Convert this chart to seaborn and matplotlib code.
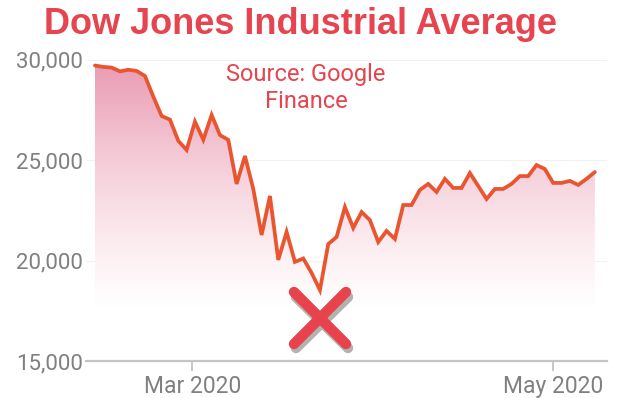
import numpy as np
import pandas as pd
import matplotlib
matplotlib.use("Agg")
import matplotlib.pyplot as plt
import matplotlib.patheffects as pe
from matplotlib.colors import LinearSegmentedColormap
from matplotlib.markers import MarkerStyle
import seaborn as sns

# ---- data ----
holidays = ["2020-02-17", "2020-04-10"]
trade_dates = [d for d in pd.bdate_range("2020-02-12", "2020-05-08") if d.strftime("%Y-%m-%d") not in holidays]
dow_close = [
    29700, 29630, 29600, 29410, 29490, 29430, 29180, 28150, 27190, 27010,
    25950, 25500, 26910, 26010, 27240, 26240, 26000, 23810, 25200, 23560,
    21270, 23210, 20030, 21420, 19930, 20100, 19380, 18530, 20820, 21170,
    22660, 21620, 22410, 22010, 20920, 21470, 21070, 22760, 22760, 23510,
    23810, 23410, 24060, 23610, 23610, 24350, 23710, 23060, 23560, 23560,
    23810, 24200, 24200, 24750, 24550, 23860, 23860, 23960, 23760, 24060,
    24400,
]
y_ticks = [15000, 20000, 25000, 30000]
x_tick_dates = ["2020-03-01", "2020-05-01"]
x_tick_labels = ["Mar 2020", "May 2020"]
title = "Dow Jones Industrial Average"
source_text = "Source: Google\nFinance"

df = pd.DataFrame({"idx": np.arange(len(dow_close)), "close": dow_close, "date": trade_dates})

# ---- style ----
sns.set_theme(style="white")
plt.rcParams["font.family"] = ["Roboto", "DejaVu Sans"]

RED = "#E6444E"
LINE = "#E9552F"
GRAY = "#808080"

fig = plt.figure(figsize=(6.18, 3.98), dpi=100)
ax = fig.add_axes([86 / 618, 1 - 361 / 398, (607 - 86) / 618, (361 - 59.5) / 398])

xmin, xmax = -1.08, 61.46
ymin, ymax = 15000, 30000
ax.set_xlim(xmin, xmax)
ax.set_ylim(ymin, ymax)

# gradient fill under the line
cmap = LinearSegmentedColormap.from_list(
    "pinkfade",
    [(0.0, "#FFFFFF"), (0.18, "#FFFFFF"), (0.35, "#FDF0F3"), (0.62, "#F6D2DD"), (1.0, "#EA9AB3")],
)
grad = np.linspace(0, 1, 256).reshape(-1, 1)
img = ax.imshow(grad, extent=[xmin, xmax, ymin, ymax], origin="lower", aspect="auto",
                cmap=cmap, zorder=1, interpolation="bicubic")
poly = ax.fill_between(df["idx"], df["close"], ymin, color="none", lw=0)
img.set_clip_path(poly.get_paths()[0], transform=ax.transData)

# gridlines
for yt in y_ticks[1:]:
    ax.axhline(yt, color="#F2F2F2", lw=0.8, zorder=0.5)

sns.lineplot(data=df, x="idx", y="close", ax=ax, color=LINE, lw=2.7, zorder=3,
             solid_joinstyle="miter")

# red X mark below the minimum
imin = int(np.argmin(dow_close))
xm = MarkerStyle("x", capstyle="round")
ax.plot([df["idx"][imin]], [min(dow_close) - 1400], marker=xm, ms=37, mew=7.5,
        color="#E8434C", zorder=5, clip_on=False,
        path_effects=[pe.SimpleLineShadow(offset=(1.5, -3), shadow_color="#555555", alpha=0.45),
                      pe.Normal()])

# axes styling
for s in ["left", "right", "top"]:
    ax.spines[s].set_visible(False)
ax.spines["bottom"].set_color("#C4C4C4")
ax.spines["bottom"].set_linewidth(1.6)

ax.set_yticks(y_ticks)
ax.set_yticklabels([f"{v:,}" for v in y_ticks])
ax.tick_params(axis="y", length=0, pad=2, labelsize=16, labelcolor=GRAY)

cal = [d.toordinal() for d in trade_dates]
xt = [np.interp(pd.Timestamp(d).toordinal(), cal, df["idx"]) for d in x_tick_dates]
ax.set_xticks(xt)
ax.set_xticklabels(x_tick_labels)
ax.tick_params(axis="x", length=7, width=1.2, color="#BDBDBD", pad=3, labelsize=16.5,
               labelcolor=GRAY, direction="out", bottom=True)
ax.set_xlabel("")
ax.set_ylabel("")

fig.text(300 / 618, 1 - 25 / 398, title, ha="center", va="center", color=RED,
         fontsize=26, fontweight="bold", family=["Liberation Sans", "DejaVu Sans"])
fig.text(306 / 618, 1 - 88 / 398, source_text, ha="center", va="center", color=RED,
         fontsize=17, linespacing=1.22, family=["Roboto", "DejaVu Sans"])

fig.savefig("out.png", dpi=100)
